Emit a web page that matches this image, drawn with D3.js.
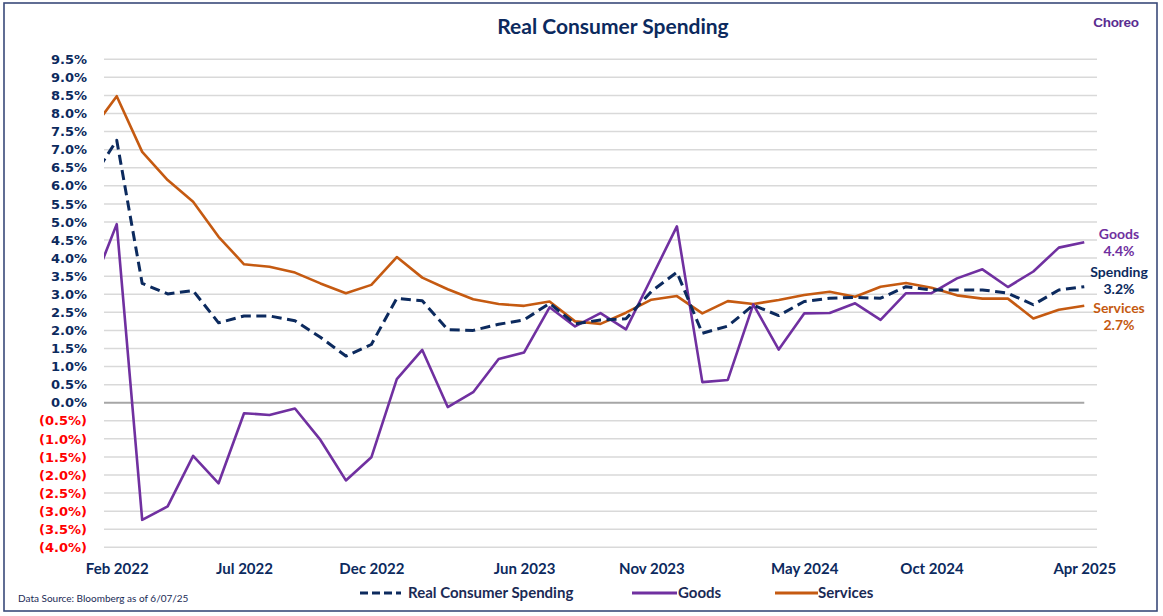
<!DOCTYPE html>
<html>
<head>
<meta charset="utf-8">
<script src="https://cdn.jsdelivr.net/npm/d3@7"></script>
<style>
  html, body { margin: 0; padding: 0; background: #fff; }
  svg { display: block; }
</style>
</head>
<body>
<svg id="chart" width="1163" height="616"></svg>
<script>
// ---- Data ----
// First value (Jan 2022) is only a lead-in, clipped at the plot's left edge.
const months = [
  "Jan 2022","Feb 2022","Mar 2022","Apr 2022","May 2022","Jun 2022","Jul 2022","Aug 2022","Sep 2022","Oct 2022","Nov 2022","Dec 2022",
  "Jan 2023","Feb 2023","Mar 2023","Apr 2023","May 2023","Jun 2023","Jul 2023","Aug 2023","Sep 2023","Oct 2023","Nov 2023","Dec 2023",
  "Jan 2024","Feb 2024","Mar 2024","Apr 2024","May 2024","Jun 2024","Jul 2024","Aug 2024","Sep 2024","Oct 2024","Nov 2024","Dec 2024",
  "Jan 2025","Feb 2025","Mar 2025","Apr 2025"
];
const spending = [6.16, 7.26, 3.30, 3.01, 3.10, 2.21, 2.40, 2.40, 2.27, 1.81, 1.29, 1.61,
  2.89, 2.82, 2.02, 2.00, 2.17, 2.29, 2.75, 2.18, 2.29, 2.32, 3.08, 3.61,
  1.92, 2.12, 2.70, 2.41, 2.80, 2.89, 2.91, 2.89, 3.21, 3.12, 3.12, 3.12,
  3.03, 2.71, 3.12, 3.21];
const goods = [3.14, 4.94, -3.24, -2.87, -1.47, -2.23, -0.29, -0.34, -0.16, -1.03, -2.15, -1.51,
  0.65, 1.46, -0.12, 0.29, 1.21, 1.39, 2.64, 2.11, 2.48, 2.03, 3.45, 4.88,
  0.57, 0.63, 2.72, 1.47, 2.47, 2.48, 2.75, 2.29, 3.03, 3.03, 3.44, 3.69,
  3.20, 3.63, 4.29, 4.44];
const services = [7.52, 8.48, 6.94, 6.16, 5.56, 4.59, 3.83, 3.76, 3.60, 3.30, 3.03, 3.26,
  4.03, 3.46, 3.14, 2.86, 2.73, 2.68, 2.80, 2.25, 2.18, 2.49, 2.85, 2.95,
  2.47, 2.81, 2.73, 2.84, 2.98, 3.07, 2.93, 3.21, 3.31, 3.18, 2.97, 2.88,
  2.88, 2.33, 2.57, 2.68];
const tickLabels = ["Feb 2022","Jul 2022","Dec 2022","Jun 2023","Nov 2023","May 2024","Oct 2024","Apr 2025"];
const yTicks = d3.range(-4, 9.5001, 0.5);
const seriesNames = ["Real Consumer Spending", "Goods", "Services"];
const endLabels = [
  {name: "Goods", value: "4.4%"},
  {name: "Spending", value: "3.2%"},
  {name: "Services", value: "2.7%"}
];

// ---- Layout ----
const W = 1163, H = 616;
const L = 104, R = 1097, T = 59.3, B = 547.3;
const NAVY = "#0c2a5e", PURPLE = "#7030a0", ORANGE = "#c55a11";
const CAL = "Lato, 'Open Sans', sans-serif";
const VER = "'DejaVu Sans', Verdana, sans-serif";

const svg = d3.select("#chart");
const step = (R - L) / (months.length - 1);
const x = d3.scalePoint().domain(months).range([L - step / 2, R - step / 2]);
const y = d3.scaleLinear().domain([-4, 9.5]).range([B, T]);

// outer frame
svg.append("rect").attr("x", 4).attr("y", 3).attr("width", 1153).attr("height", 608)
  .attr("fill", "#fff").attr("stroke", "#3a4a7a").attr("stroke-width", 1.6);

// title
svg.append("text").attr("x", 613).attr("y", 34).attr("text-anchor", "middle")
  .attr("font-family", CAL).attr("font-weight", 700).attr("font-size", 21)
  .attr("fill", NAVY).text("Real Consumer Spending");

// logo
svg.append("text").attr("x", 1116).attr("y", 27).attr("text-anchor", "middle")
  .attr("font-family", "'Liberation Sans', Arial, sans-serif").attr("font-weight", 700)
  .attr("font-size", 13.5).attr("fill", "#5a2d91").attr("letter-spacing", -0.3).text("Choreo");

// gridlines
svg.append("g").selectAll("line").data(yTicks.filter(d => Math.abs(d) > 1e-9)).join("line")
  .attr("x1", L).attr("x2", R).attr("y1", d => y(d)).attr("y2", d => y(d))
  .attr("stroke", "#d9d9d9").attr("stroke-width", 1.5);
// zero line
svg.append("line").attr("x1", L).attr("x2", x(months[months.length - 1]))
  .attr("y1", y(0)).attr("y2", y(0)).attr("stroke", "#a6a6a6").attr("stroke-width", 2);

// y axis
const yAxis = d3.axisLeft(y).tickValues(yTicks).tickSize(0).tickPadding(0)
  .tickFormat(d => {
    const s = Math.abs(d).toFixed(1) + "%";
    return d < -1e-9 ? "(" + s + ")" : s;
  });
const yg = svg.append("g").attr("transform", "translate(87,0)").call(yAxis);
yg.select(".domain").remove();
yg.selectAll("text").attr("font-family", VER).attr("font-weight", 700).attr("font-size", 13)
  .attr("fill", d => d < -1e-9 ? "#ff0000" : NAVY);

// x axis
const xAxis = d3.axisBottom(x).tickValues(tickLabels).tickSize(0).tickPadding(0);
const xg = svg.append("g").attr("transform", "translate(0,563)").call(xAxis);
xg.select(".domain").remove();
xg.selectAll("text").attr("font-family", CAL).attr("font-weight", 700).attr("font-size", 15)
  .attr("fill", NAVY).attr("dy", "0.71em");

// clip for plot
svg.append("clipPath").attr("id", "plotclip").append("rect")
  .attr("x", L).attr("y", 0).attr("width", R - L).attr("height", H);

const line = d3.line().x((d, i) => x(months[i])).y(d => y(d));
const plot = svg.append("g").attr("clip-path", "url(#plotclip)");
plot.append("path").datum(services).attr("d", line).attr("fill", "none")
  .attr("stroke", ORANGE).attr("stroke-width", 2.6).attr("stroke-linejoin", "round");
plot.append("path").datum(goods).attr("d", line).attr("fill", "none")
  .attr("stroke", PURPLE).attr("stroke-width", 2.6).attr("stroke-linejoin", "round");
plot.append("path").datum(spending).attr("d", line).attr("fill", "none")
  .attr("stroke", NAVY).attr("stroke-width", 3).attr("stroke-dasharray", "10,5.5")
  .attr("stroke-linejoin", "round");

// end labels
const labelColors = [PURPLE, NAVY, ORANGE];
const labelY = [239, 277, 313];
const el = svg.append("g").attr("font-family", CAL).attr("font-weight", 700).attr("font-size", 14)
  .attr("text-anchor", "middle");
endLabels.forEach((d, i) => {
  el.append("text").attr("x", 1119).attr("y", labelY[i]).attr("fill", labelColors[i]).text(d.name);
  el.append("text").attr("x", 1119).attr("y", labelY[i] + 17).attr("fill", labelColors[i]).text(d.value);
});

// legend
const lg = svg.append("g").attr("font-family", CAL).attr("font-weight", 700).attr("font-size", 15).attr("fill", "#1a2a55");
const legendItems = [
  {x1: 360, x2: 401, tx: 408, color: NAVY, dash: "8,4", w: 3},
  {x1: 632, x2: 677, tx: 678, color: PURPLE, dash: null, w: 3},
  {x1: 775, x2: 818, tx: 818, color: ORANGE, dash: null, w: 3}
];
legendItems.forEach((d, i) => {
  lg.append("line").attr("x1", d.x1).attr("x2", d.x2).attr("y1", 593).attr("y2", 593)
    .attr("stroke", d.color).attr("stroke-width", d.w).attr("stroke-dasharray", d.dash);
  lg.append("text").attr("x", d.tx).attr("y", 598).text(seriesNames[i]);
});

// source
svg.append("text").attr("x", 18).attr("y", 602).attr("font-family", CAL).attr("font-size", 10)
  .attr("fill", "#1a2a55").text("Data Source: Bloomberg as of 6/07/25");
</script>
</body>
</html>
